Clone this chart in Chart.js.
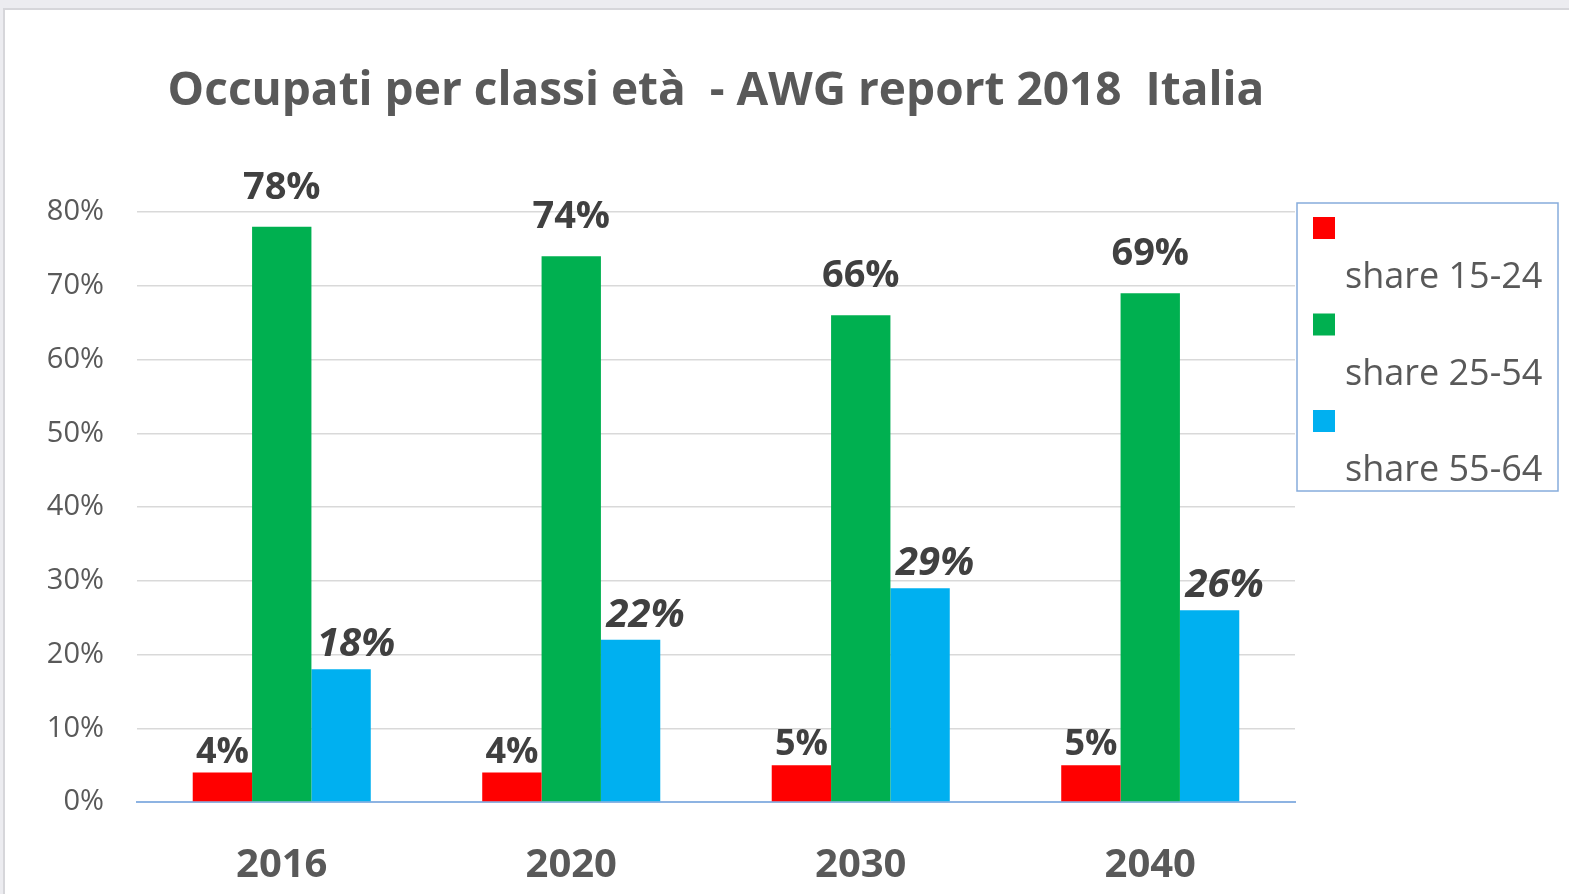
<!DOCTYPE html>
<html lang="it">
<head>
  <meta charset="UTF-8" />
  <title>Occupati per classi età - AWG report 2018 Italia</title>
  <script src="https://cdn.jsdelivr.net/npm/chart.js"></script>
  <style>
    html, body { margin: 0; padding: 0; width: 1569px; height: 894px; overflow: hidden; background: #ececf0; }
    #frame { position: absolute; left: 3px; top: 8px; width: 1564px; height: 884px; background: #fff; border-left: 2px solid #d6d6da; border-top: 2px solid #d6d6da; }
    canvas { display: block; }
  </style>
</head>
<body>
  <div id="frame"><canvas id="chart"></canvas></div>

  <script>
    const years = ['2016', '2020', '2030', '2040'];
    const seriesNames = ['share 15-24', 'share 25-54', 'share 55-64'];
    const share1524 = [4, 4, 5, 5];
    const share2554 = [78, 74, 66, 69];
    const share5564 = [18, 22, 29, 26];
    const yTicks = [0, 10, 20, 30, 40, 50, 60, 70, 80];

    const colors = ['#ff0000', '#00b050', '#00b0f0'];
    const textGrey = '#595959';
    const labelGrey = '#404040';
    const FONT = "'Open Sans', 'Liberation Sans', sans-serif";

    // per series label look: font and how far above the bar top
    const labelStyle = [
      { font: 'bold 36px ' + FONT, gap: 10, dx: 0 },
      { font: 'bold 38px ' + FONT, gap: 28, dx: 0 },
      { font: 'italic bold 40px ' + FONT, gap: 13, dx: 15 }
    ];

    const valueLabels = {
      id: 'valueLabels',
      afterDatasetsDraw(chart) {
        const ctx = chart.ctx;
        ctx.save();
        ctx.fillStyle = labelGrey;
        ctx.textAlign = 'center';
        ctx.textBaseline = 'alphabetic';
        chart.data.datasets.forEach((ds, i) => {
          const st = labelStyle[i];
          ctx.font = st.font;
          chart.getDatasetMeta(i).data.forEach((bar, j) => {
            ctx.fillText(ds.data[j] + '%', bar.x + st.dx, bar.y - st.gap);
          });
        });
        ctx.restore();
      }
    };

    // Excel style legend: swatch on one line, name on the next
    const boxLegend = {
      id: 'boxLegend',
      afterDraw(chart) {
        const ctx = chart.ctx;
        const a = chart.chartArea;
        const left = a.right + 2, top = a.top - 9, w = 261, h = 288;
        ctx.save();
        ctx.strokeStyle = '#86acdc';
        ctx.lineWidth = 1.5;
        ctx.strokeRect(left, top, w, h);
        ctx.font = '36px ' + FONT;
        ctx.textAlign = 'left';
        ctx.textBaseline = 'alphabetic';
        chart.data.datasets.forEach((ds, i) => {
          const y0 = top + 14 + i * 96.5;
          ctx.fillStyle = ds.backgroundColor;
          ctx.fillRect(left + 16, y0, 22, 22);
          ctx.fillStyle = textGrey;
          ctx.fillText(ds.label, left + 48, y0 + 71);
        });
        ctx.restore();
      }
    };

    new Chart(document.getElementById('chart'), {
      type: 'bar',
      data: {
        labels: years,
        datasets: [
          { label: seriesNames[0], data: share1524, backgroundColor: colors[0] },
          { label: seriesNames[1], data: share2554, backgroundColor: colors[1] },
          { label: seriesNames[2], data: share5564, backgroundColor: colors[2] }
        ]
      },
      options: {
        responsive: true,
        maintainAspectRatio: false,
        animation: false,
        datasets: { bar: { categoryPercentage: 0.615, barPercentage: 1.0 } },
        layout: { padding: { left: 0, right: 274, top: 0, bottom: 0 } },
        plugins: {
          legend: { display: false },
          tooltip: { enabled: false },
          title: {
            display: true,
            fullSize: false,
            text: 'Occupati per classi età  - AWG report 2018  Italia',
            color: textGrey,
            font: { family: FONT, size: 46, weight: 'bold', lineHeight: 1.2 },
            padding: { top: 54, bottom: 92.8 }
          }
        },
        scales: {
          x: {
            grid: { display: false, drawTicks: false },
            border: { color: '#8db3e2', width: 2 },
            ticks: { color: textGrey, padding: 40, font: { family: FONT, size: 40, weight: 'bold' } },
            afterFit(scale) { scale.height = 92; }
          },
          y: {
            min: 0,
            max: 80,
            afterBuildTicks(scale) { scale.ticks = yTicks.map(v => ({ value: v })); },
            grid: {
              color: ctx => ctx.tick && ctx.tick.value === 0 ? 'rgba(0,0,0,0)' : '#d9d9d9',
              lineWidth: 1.5,
              drawTicks: false
            },
            border: { display: false },
            ticks: {
              color: textGrey,
              padding: 33,
              font: { family: FONT, size: 29 },
              callback: v => v + '%'
            },
            afterFit(scale) { scale.width = 132; }
          }
        }
      },
      plugins: [valueLabels, boxLegend]
    });
  </script>
</body>
</html>
